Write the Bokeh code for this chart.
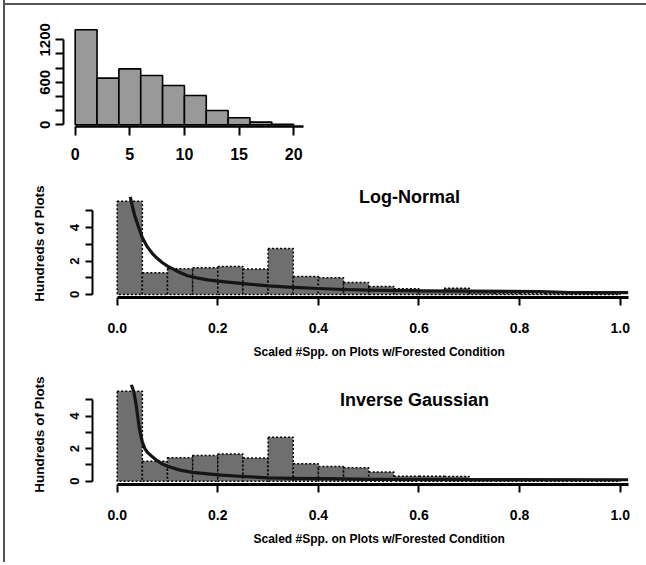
from jinja2 import Template
from bokeh.plotting import figure
from bokeh.models import FixedTicker, NumeralTickFormatter, Label, Title
from bokeh.embed import file_html
from bokeh.resources import INLINE
from bokeh.core.templates import FILE

# ---------------- data ----------------
TOP_EDGES = [0, 2, 4, 6, 8, 10, 12, 14, 16, 18, 20]
TOP_COUNTS = [1341, 659, 790, 696, 555, 414, 202, 99, 38, 8]
TOP_X_TICKS = [0, 5, 10, 15, 20]
TOP_Y_TICKS = [0, 200, 400, 600, 800, 1000, 1200]
TOP_Y_LABELED = [0, 600, 1200]

BIN_EDGES = [0.00, 0.05, 0.10, 0.15, 0.20, 0.25, 0.30, 0.35, 0.40, 0.45, 0.50,
             0.55, 0.60, 0.65, 0.70, 0.75, 0.80, 0.85, 0.90, 0.95, 1.00]
LN_COUNTS = [5.59, 1.30, 1.54, 1.60, 1.68, 1.52, 2.75, 1.08, 1.00, 0.72,
             0.48, 0.34, 0.20, 0.38, 0.10, 0.06, 0.05, 0.04, 0.05, 0.04]
IG_COUNTS = [5.54, 1.23, 1.44, 1.58, 1.68, 1.42, 2.71, 1.07, 0.90, 0.82,
             0.56, 0.31, 0.31, 0.29, 0.05, 0.05, 0.05, 0.05, 0.05, 0.05]

LN_CURVE_X = [0.026, 0.03, 0.035, 0.04, 0.05, 0.06, 0.07, 0.08, 0.09, 0.10,
              0.12, 0.14, 0.16, 0.18, 0.20, 0.25, 0.30, 0.35, 0.40, 0.45,
              0.50, 0.60, 0.70, 0.84, 0.90, 1.016]
LN_CURVE_Y = [5.85, 5.30, 4.70, 4.25, 3.40, 2.85, 2.45, 2.15, 1.90, 1.70,
              1.38, 1.12, 0.98, 0.88, 0.80, 0.65, 0.52, 0.43, 0.36, 0.30,
              0.26, 0.22, 0.20, 0.18, 0.12, 0.11]

IG_CURVE_X = [0.028, 0.033, 0.036, 0.039, 0.042, 0.045, 0.05, 0.055, 0.06, 0.07,
              0.08, 0.09, 0.10, 0.125, 0.15, 0.20, 0.25, 0.30, 0.35, 0.45,
              0.50, 0.70, 1.016]
IG_CURVE_Y = [5.95, 5.50, 5.00, 4.40, 3.70, 3.10, 2.40, 2.00, 1.78, 1.50,
              1.25, 1.05, 0.92, 0.68, 0.54, 0.39, 0.29, 0.21, 0.18, 0.14,
              0.11, 0.10, 0.09]

X_TICKS = [0.0, 0.2, 0.4, 0.6, 0.8, 1.0]
Y_TICKS = [0, 1, 2, 3, 4, 5]
Y_LABELED = [0, 2, 4]
X_TITLE = "Scaled #Spp. on Plots w/Forested Condition"
Y_TITLE = "Hundreds of Plots"
PANEL_TITLES = ["Log-Normal", "Inverse Gaussian"]

FONT = "Liberation Sans"
LEFT_RULE = "linear-gradient(#555555, #555555) 3px 0 / 2px 100% no-repeat"
TOP_RULE = "linear-gradient(#555555, #555555) 3px 3px / 100% 2px no-repeat"
BORDER_TOP_LEFT = {"background": LEFT_RULE + ", " + TOP_RULE, "overflow": "hidden"}
BORDER_LEFT = {"background": LEFT_RULE, "overflow": "hidden"}


def base_style(p):
    p.xgrid.visible = False
    p.ygrid.visible = False
    p.outline_line_color = None
    p.border_fill_color = None
    p.background_fill_color = None
    for ax in (p.xaxis, p.yaxis):
        ax.minor_tick_line_color = None
        ax.major_tick_in = 0
        ax.axis_line_color = "black"
        ax.major_tick_line_color = "black"
        ax.major_label_text_font = FONT
        ax.major_label_text_font_style = "bold"
        ax.major_label_text_color = "black"
        ax.axis_label_text_font = FONT
        ax.axis_label_text_font_style = "bold"
        ax.axis_label_text_color = "black"


# ---------------- top histogram ----------------
pa = figure(frame_width=240, frame_height=101,
            min_border_left=63, min_border_right=343,
            min_border_top=25, min_border_bottom=44,
            x_range=(-1.07, 20.9), y_range=(-24, 1402),
            output_backend="svg", toolbar_location=None,
            styles=BORDER_TOP_LEFT)
base_style(pa)
pa.quad(left=TOP_EDGES[:-1], right=TOP_EDGES[1:], bottom=0, top=TOP_COUNTS,
        fill_color="#999999", line_color="black", line_width=1.6)
pa.xaxis.ticker = FixedTicker(ticks=TOP_X_TICKS)
pa.xaxis.bounds = (TOP_EDGES[0], 20.9)
pa.xaxis.axis_line_width = 2.5
pa.xaxis.major_tick_line_width = 2
pa.xaxis.major_tick_out = 9
pa.xaxis.major_label_standoff = 12
pa.xaxis.major_label_text_font_size = "16px"
pa.yaxis.ticker = FixedTicker(ticks=TOP_Y_TICKS)
pa.yaxis.bounds = (TOP_Y_TICKS[0], TOP_Y_TICKS[-1])
pa.yaxis.axis_line_width = 2
pa.yaxis.major_tick_line_width = 2
pa.yaxis.major_tick_out = 8
pa.yaxis.major_label_standoff = 5
pa.yaxis.major_label_orientation = "vertical"
pa.yaxis.major_label_text_font_size = "15px"
pa.yaxis.major_label_overrides = {t: "" for t in TOP_Y_TICKS if t not in TOP_Y_LABELED}


# ---------------- density panels ----------------
def make_panel(counts, cx, cy, title, title_x, title_y,
               top_border, frame_h, bottom_border, y_start, y_end, right_border):
    p = figure(frame_width=536, frame_height=frame_h,
               min_border_left=92, min_border_right=right_border,
               min_border_top=top_border, min_border_bottom=bottom_border,
               x_range=(-0.0491, 1.0165), y_range=(y_start, y_end),
               output_backend="svg", toolbar_location=None,
               styles=BORDER_LEFT)
    base_style(p)
    p.quad(left=BIN_EDGES[:-1], right=BIN_EDGES[1:], bottom=0, top=counts,
           fill_color="#6f6f6f", line_color="black", line_width=1.5,
           line_dash="2 2")
    p.line(cx, cy, line_color="#151515", line_width=3.2, line_join="round")

    p.xaxis.ticker = FixedTicker(ticks=X_TICKS)
    p.xaxis.formatter = NumeralTickFormatter(format="0.0")
    p.xaxis.bounds = (X_TICKS[0], 1.0165)
    p.xaxis.axis_line_width = 3
    p.xaxis.major_tick_line_width = 2
    p.xaxis.major_tick_out = 8
    p.xaxis.major_label_standoff = 17
    p.xaxis.major_label_text_font_size = "14px"

    p.yaxis.ticker = FixedTicker(ticks=Y_TICKS)
    p.yaxis.bounds = (Y_TICKS[0], Y_TICKS[-1])
    p.yaxis.axis_line_width = 2
    p.yaxis.major_tick_line_width = 2
    p.yaxis.major_tick_out = 7
    p.yaxis.major_label_standoff = 6
    p.yaxis.major_label_orientation = "vertical"
    p.yaxis.major_label_text_font_size = "13px"
    p.yaxis.major_label_overrides = {t: "" for t in Y_TICKS if t not in Y_LABELED}
    p.yaxis.axis_label = Y_TITLE
    p.yaxis.axis_label_text_font_size = "13.5px"
    p.yaxis.axis_label_standoff = 21

    p.add_layout(Label(x=title_x, y=title_y, text=title, text_font=FONT,
                       text_font_size="18px", text_font_style="bold",
                       text_align="center", text_baseline="middle",
                       text_color="black"))
    p.add_layout(Title(text=X_TITLE, align="left", offset=161, standoff=14,
                       text_font=FONT, text_font_size="12px",
                       text_font_style="bold", text_color="black"), "below")
    return p


pb = make_panel(LN_COUNTS, LN_CURVE_X, LN_CURVE_Y, PANEL_TITLES[0],
                0.581, 5.83,
                top_border=19, frame_h=108, bottom_border=68,
                y_start=-0.18, y_end=6.287, right_border=18)
pc = make_panel(IG_COUNTS, IG_CURVE_X, IG_CURVE_Y, PANEL_TITLES[1],
                0.591, 4.97,
                top_border=19, frame_h=100, bottom_border=78,
                y_start=-0.203, y_end=5.95, right_border=4)

PAGE = Template(
    "{% extends base %}"
    "{% block preamble %}<style>html, body { margin: 0; padding: 0; overflow: hidden; }</style>{% endblock %}"
)

open("out.html", "w").write(
    file_html([pa, pb, pc], INLINE, template=PAGE, template_variables={"base": FILE})
)
